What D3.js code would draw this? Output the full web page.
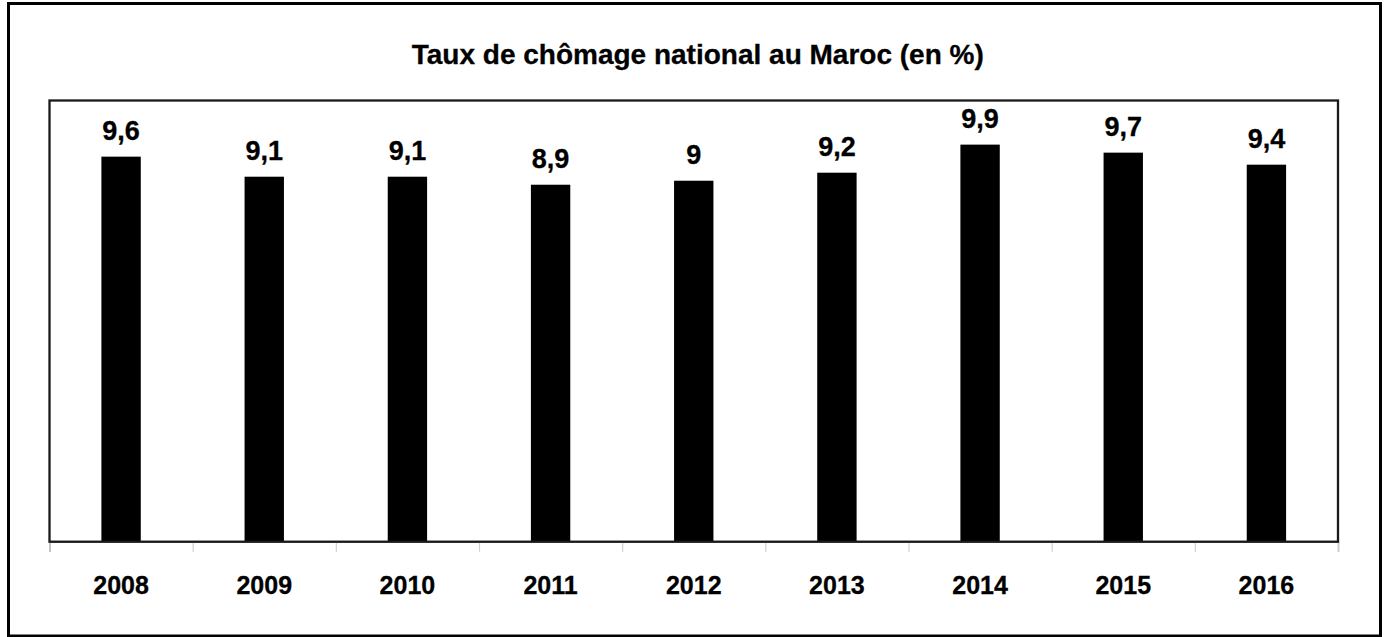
<!DOCTYPE html>
<html><head><meta charset="utf-8">
<script src="https://cdn.jsdelivr.net/npm/d3@7"></script>
<style>html,body{margin:0;padding:0;background:#fff}svg{display:block}</style>
</head><body>
<script>
const years = ["2008","2009","2010","2011","2012","2013","2014","2015","2016"];
const rates = [9.6, 9.1, 9.1, 8.9, 9.0, 9.2, 9.9, 9.7, 9.4];
const valueLabels = ["9,6","9,1","9,1","8,9","9","9,2","9,9","9,7","9,4"];
const titleText = "Taux de chômage national au Maroc (en %)";

const W = 1387, H = 637;
const font = "Liberation Sans, Arial, sans-serif";
const svg = d3.select("body").append("svg").attr("width", W).attr("height", H);
svg.append("rect").attr("width", W).attr("height", H).attr("fill", "#fff");
svg.append("rect").attr("x", 8.5).attr("y", 3.5).attr("width", 1372).attr("height", 632.5)
  .attr("fill", "none").attr("stroke", "#000").attr("stroke-width", 3);

const plot = {l: 49.5, r: 1338, t: 100.5, b: 541.7};
const x = d3.scaleBand().domain(years).range([plot.l, plot.r]).paddingInner(0.725).paddingOuter(0.3625);
const y = d3.scaleLinear().domain([0, 11]).range([plot.b, plot.t]);

svg.append("text").attr("x", (plot.l + plot.r) / 2 + 4).attr("y", 63.5)
  .attr("text-anchor", "middle").attr("font-family", font).attr("font-weight", "bold")
  .attr("font-size", 28).attr("fill", "#000").attr("stroke", "#000").attr("stroke-width", 0.3)
  .text(titleText);

// bars
svg.append("g").selectAll("rect").data(years).join("rect")
  .attr("x", d => x(d)).attr("width", x.bandwidth())
  .attr("y", (d, i) => y(rates[i])).attr("height", (d, i) => y(0) - y(rates[i]))
  .attr("fill", "#000");

// value labels
svg.append("g").selectAll("text").data(years).join("text")
  .attr("x", d => x(d) + x.bandwidth() / 2).attr("y", (d, i) => y(rates[i]) - 17)
  .attr("text-anchor", "middle").attr("font-family", font).attr("font-weight", "bold")
  .attr("font-size", 27).attr("fill", "#000").attr("stroke", "#000").attr("stroke-width", 0.3)
  .text((d, i) => valueLabels[i]);

// x axis ticks (category boundaries)
const xb = d3.scaleLinear().domain([0, years.length]).range([plot.l, plot.r]);
const axis = d3.axisBottom(xb).tickValues(d3.range(0, years.length + 1)).tickSize(10).tickFormat("");
const ax = svg.append("g").attr("transform", `translate(0,${plot.b})`).call(axis);
ax.select(".domain").attr("stroke", "#999").attr("stroke-width", 1.5);
ax.selectAll(".tick line").attr("stroke", "#d0d0d0").attr("stroke-width", 1.2);

// plot frame
svg.append("rect").attr("x", plot.l).attr("y", plot.t).attr("width", plot.r - plot.l).attr("height", plot.b - plot.t)
  .attr("fill", "none").attr("stroke", "#1a1a1a").attr("stroke-width", 2.3);

// year labels
svg.append("g").selectAll("text").data(years).join("text")
  .attr("x", d => x(d) + x.bandwidth() / 2).attr("y", 594)
  .attr("text-anchor", "middle").attr("font-family", font).attr("font-weight", "bold")
  .attr("font-size", 25).attr("fill", "#000").attr("stroke", "#000").attr("stroke-width", 0.3)
  .text(d => d);
</script>
</body></html>
